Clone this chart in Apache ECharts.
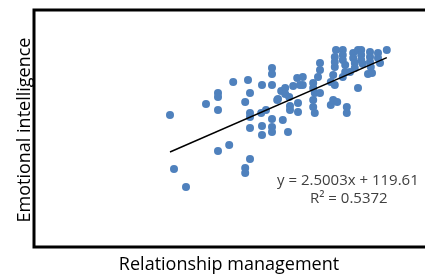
<!DOCTYPE html>
<html>
<head>
<meta charset="utf-8">
<script src="https://cdn.jsdelivr.net/npm/echarts@6/dist/echarts.min.js"></script>
<style>html,body{margin:0;padding:0;background:#fff}#c{width:425px;height:276px}</style>
</head>
<body>
<div id="c"></div>
<script>
// Relationship management (x) scores
var relMgmt = [17.0,17.5,19.0,21.5,23.0,23.0,23.0,23.0,24.4,24.9,26.4,26.75,27.0,27.0,27.0,27.0,27.0,26.4,26.4,28.5,28.4,28.5,28.5,29.0,29.75,29.75,29.75,29.75,29.75,29.75,30.4,30.9,31.4,31.4,31.9,31.1,31.75,32.4,32.9,33.25,32.0,32.0,33.0,33.0,30.5,33.6,33.6,34.9,34.9,35.1,34.9,35.75,34.9,35.1,35.75,35.75,35.5,37.1,37.6,37.4,37.6,37.6,37.6,37.75,37.4,37.1,37.9,39.1,39.1,38.6,38.6,38.6,38.9,38.9,38.6,39.9,39.9,40.1,40.1,39.5,40.5,40.9,40.9,40.9,41.1,40.5,42.0,42.0,42.0,42.1,41.75,43.0,43.0,43.25,44.1,42.25];
// Emotional intelligence (y) scores
var emoIntel = [188.7,149.9,137.0,196.6,204.5,201.6,192.3,162.9,167.2,212.4,198.0,213.8,204.5,190.1,187.2,179.4,157.1,150.7,147.1,210.2,190.1,180.8,174.3,192.3,222.4,218.1,210.2,185.8,180.1,176.5,199.4,205.9,208.0,203.7,201.6,185.1,176.5,209.5,215.2,210.2,195.1,192.3,197.3,190.8,200.2,215.9,210.2,211.6,208.0,204.5,199.4,204.5,194.4,190.1,226.0,221.0,215.9,212.4,210.2,217.4,223.1,226.7,230.3,235.3,199.4,195.9,198.0,194.4,190.1,235.3,231.7,228.1,224.5,219.5,215.9,233.2,229.6,226.0,222.4,219.5,235.3,235.3,231.7,228.1,225.3,208.0,233.9,230.3,226.7,223.1,218.1,233.2,229.6,226.0,235.3,218.8];
// Linear trendline coefficients shown on the chart
var trendSlope = 2.5003;
var trendIntercept = 119.61;
var trendXRange = [17.0, 44.1];
var equationText = 'y = 2.5003x + 119.61';
var r2Text = 'R\u00b2 = 0.5372';
var xTitle = 'Relationship management';
var yTitle = 'Emotional intelligence';

var points = relMgmt.map(function (x, i) { return [x, emoIntel[i]]; });
var trend = trendXRange.map(function (x) { return [x, trendSlope * x + trendIntercept]; });

var chart = echarts.init(document.getElementById('c'), null, {renderer: 'canvas'});
chart.setOption({
  animation: false,
  backgroundColor: '#ffffff',
  grid: {left: 34, top: 10, right: 0, height: 237, show: false},
  xAxis: {type: 'value', min: 0, max: 48.875, axisLine: {show: false}, axisTick: {show: false}, axisLabel: {show: false}, splitLine: {show: false}},
  yAxis: {type: 'value', min: 94, max: 264, axisLine: {show: false}, axisTick: {show: false}, axisLabel: {show: false}, splitLine: {show: false}},
  series: [
    {type: 'scatter', data: points, symbolSize: 8, itemStyle: {color: '#4f81bd', opacity: 1}},
    {type: 'line', data: trend, symbol: 'none', lineStyle: {color: '#000000', width: 1.5}, z: 5}
  ],
  graphic: [
    {type: 'rect', shape: {x: 34, y: 10, width: 420, height: 237}, style: {fill: 'none', stroke: '#000000', lineWidth: 3}, z: 10},
    {type: 'text', left: 277, top: 173, style: {text: equationText, font: '15px "Open Sans"', fill: '#404040'}},
    {type: 'text', left: 310, top: 191, style: {text: r2Text, font: '15px "Open Sans"', fill: '#404040'}},
    {type: 'text', x: 229, y: 265, style: {text: xTitle, font: '18px "Open Sans"', fill: '#000000', align: 'center', verticalAlign: 'middle'}},
    {type: 'text', x: 25, y: 130, rotation: Math.PI / 2, style: {text: yTitle, font: '18px "Open Sans"', fill: '#000000', align: 'center', verticalAlign: 'middle'}}
  ]
});
</script>
</body>
</html>
